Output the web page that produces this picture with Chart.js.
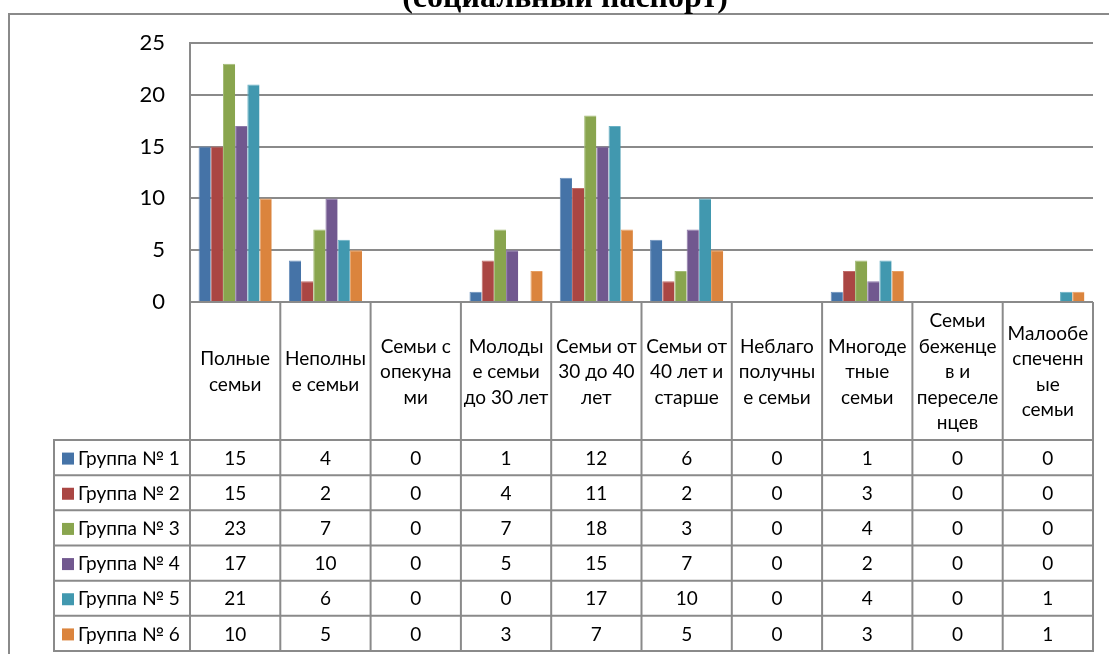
<!DOCTYPE html>
<html>
<head>
<meta charset="utf-8">
<script src="https://cdn.jsdelivr.net/npm/chart.js@4.4.1/dist/chart.umd.min.js"></script>
<style>
  html, body { margin: 0; padding: 0; background: #ffffff; }
  #c { display: block; }
</style>
</head>
<body>
<canvas id="c" width="1109" height="654"></canvas>
<script>
// ---- Data ----
const titleText = '(социальный паспорт)';
const categories = [
  ['Полные', 'семьи'],
  ['Неполны', 'е семьи'],
  ['Семьи с', 'опекуна', 'ми'],
  ['Молоды', 'е семьи', 'до 30 лет'],
  ['Семьи от', '30 до 40', 'лет'],
  ['Семьи от', '40 лет и', 'старше'],
  ['Неблаго', 'получны', 'е семьи'],
  ['Многоде', 'тные', 'семьи'],
  ['Семьи', 'беженце', 'в и', 'переселе', 'нцев'],
  ['Малообе', 'спеченн', 'ые', 'семьи']
];
const seriesNames = ['Группа № 1', 'Группа № 2', 'Группа № 3', 'Группа № 4', 'Группа № 5', 'Группа № 6'];
const group1 = [15, 4, 0, 1, 12, 6, 0, 1, 0, 0];
const group2 = [15, 2, 0, 4, 11, 2, 0, 3, 0, 0];
const group3 = [23, 7, 0, 7, 18, 3, 0, 4, 0, 0];
const group4 = [17, 10, 0, 5, 15, 7, 0, 2, 0, 0];
const group5 = [21, 6, 0, 0, 17, 10, 0, 4, 0, 1];
const group6 = [10, 5, 0, 3, 7, 5, 0, 3, 0, 1];
const yMin = 0, yMax = 25, yStep = 5;

// ---- Styles ----
const seriesColors = ['#4573A7', '#AA4643', '#89A54E', '#71588F', '#4198AF', '#DB843D'];
const seriesEdges  = ['#6a8fbb', '#bf6c69', '#a2bb75', '#8d78a8', '#68b0c4', '#e69e62'];
const seriesValues = [group1, group2, group3, group4, group5, group6];
const lineColor = '#8a8a8a';
const fontFamily = 'Lato, "Noto Sans", sans-serif';

const chromePlugin = {
  id: 'chrome',
  beforeDraw(chart) {
    const ctx = chart.ctx;
    ctx.save();
    ctx.fillStyle = '#ffffff';
    ctx.fillRect(0, 0, chart.width, chart.height);
    // outer chart border
    ctx.strokeStyle = lineColor;
    ctx.lineWidth = 2;
    ctx.beginPath();
    ctx.moveTo(1109 + 2, 14);
    ctx.lineTo(9, 14);
    ctx.lineTo(9, 654 + 2);
    ctx.stroke();
    // title (partially cut at the top)
    ctx.fillStyle = '#000000';
    ctx.font = 'bold 32px "Liberation Serif", "DejaVu Serif", serif';
    ctx.textAlign = 'center';
    ctx.textBaseline = 'alphabetic';
    ctx.fillText(titleText, 565, 7);
    ctx.restore();
  }
};

const tablePlugin = {
  id: 'dataTable',
  afterDraw(chart) {
    const ctx = chart.ctx;
    const xs = chart.scales.x;
    const ca = chart.chartArea;
    const n = categories.length;
    const colW = (ca.right - ca.left) / n;
    const headerTop = ca.bottom;
    const headerBottom = 440;
    const tableBottom = 651;
    const legendLeft = 54;
    const rowH = (tableBottom - headerBottom) / seriesNames.length;
    const bounds = [];
    for (let i = 0; i < n; i++) bounds.push(xs.getPixelForValue(i) - colW / 2);
    bounds.push(xs.getPixelForValue(n - 1) + colW / 2);

    ctx.save();
    ctx.strokeStyle = lineColor;
    ctx.lineWidth = 2;
    // vertical lines
    ctx.beginPath();
    bounds.forEach(b => { ctx.moveTo(b, headerTop); ctx.lineTo(b, tableBottom); });
    ctx.moveTo(legendLeft, headerBottom); ctx.lineTo(legendLeft, tableBottom);
    ctx.moveTo(ca.left, ca.top); ctx.lineTo(ca.left, tableBottom);
    // horizontal lines
    for (let r = 0; r <= seriesNames.length; r++) {
      const y = headerBottom + r * rowH;
      ctx.moveTo(legendLeft - 1, y); ctx.lineTo(bounds[n] + 1, y);
    }
    ctx.stroke();

    // header labels
    ctx.fillStyle = '#000000';
    ctx.font = '19px ' + fontFamily;
    ctx.textAlign = 'center';
    ctx.textBaseline = 'middle';
    const lh = 25.5;
    const hc = (headerTop + headerBottom) / 2 + 1;
    categories.forEach((lines, i) => {
      const cx = xs.getPixelForValue(i);
      const y0 = hc - (lines.length - 1) * lh / 2;
      lines.forEach((t, k) => ctx.fillText(t, cx, y0 + k * lh));
    });

    // rows
    seriesNames.forEach((name, r) => {
      const cy = headerBottom + r * rowH + rowH / 2 + 1;
      ctx.fillStyle = seriesColors[r];
      ctx.fillRect(62, cy - 6, 12, 12);
      ctx.fillStyle = '#000000';
      ctx.textAlign = 'left';
      ctx.fillText(name, 78, cy);
      ctx.textAlign = 'center';
      seriesValues[r].forEach((v, i) => {
        ctx.fillText(String(v), xs.getPixelForValue(i), cy);
      });
    });
    ctx.restore();
  }
};

new Chart(document.getElementById('c'), {
  type: 'bar',
  data: {
    labels: categories.map(l => l.join(' ')),
    datasets: seriesNames.map((name, i) => ({
      label: name,
      data: seriesValues[i],
      backgroundColor: seriesColors[i],
      borderColor: seriesEdges[i],
      borderWidth: { left: 1, right: 0, top: 1, bottom: 0 },
      borderSkipped: 'bottom',
      categoryPercentage: 0.81,
      barPercentage: 1.0
    }))
  },
  options: {
    responsive: false,
    animation: false,
    devicePixelRatio: 1,
    layout: { padding: { left: 0, top: 43, right: 16, bottom: 352 } },
    plugins: {
      legend: { display: false },
      title: { display: false },
      tooltip: { enabled: false }
    },
    scales: {
      x: {
        display: false
      },
      y: {
        min: yMin,
        max: yMax,
        ticks: {
          stepSize: yStep,
          padding: 25,
          color: '#000000',
          font: { family: fontFamily, size: 22 }
        },
        grid: {
          color: lineColor,
          lineWidth: 2,
          drawTicks: false
        },
        border: { display: true, color: lineColor, width: 2 },
        afterFit(scale) { scale.width = 190; }
      }
    }
  },
  plugins: [chromePlugin, tablePlugin]
});
</script>
</body>
</html>
